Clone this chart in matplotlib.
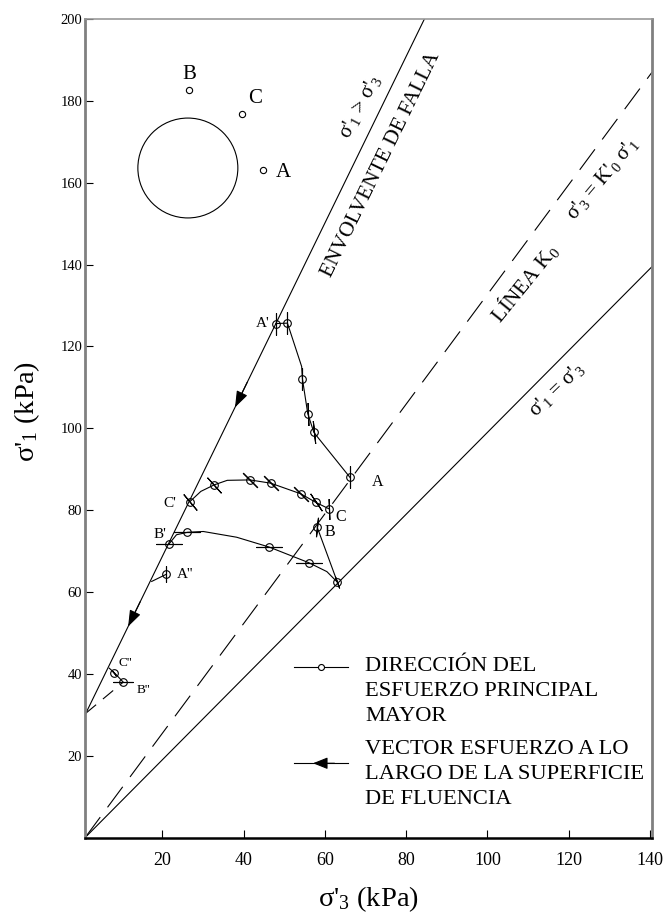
import matplotlib
matplotlib.use("Agg")
import matplotlib.pyplot as plt
from matplotlib.patches import Ellipse

plt.rcParams["font.family"] = ["Liberation Serif", "DejaVu Serif"]
plt.rcParams["mathtext.fontset"] = "custom"
plt.rcParams["mathtext.rm"] = "Liberation Serif"
plt.rcParams["mathtext.it"] = "Liberation Serif:italic"
plt.rcParams["mathtext.default"] = "regular"

# esquema de estados A, B, C
circ_x, circ_y = 26.3, 163.6
circ_rx, circ_ry = 12.3, 12.2
abc_lab = ["A", "B", "C"]
abc_x = [44.9, 26.6, 39.5]
abc_y = [163.0, 182.7, 176.7]
abc_lx = [49.8, 26.6, 42.8]
abc_ly = [162.4, 186.4, 180.7]

# rectas
env_x = [1.2, 84.5]      # envolvente de falla
env_y = [30.4, 200.0]
k0_x = [1.0, 140.5]      # linea K0
k0_y = [0.0, 187.0]
iso_x = [1.0, 140.5]     # s1 = s3
iso_y = [0.0, 139.5]

# trayectoria A -> A'
trayA_x = [48.0, 50.8, 54.3, 54.5, 55.8, 57.3, 66.2]
trayA_y = [125.6, 125.7, 115.1, 112.0, 103.6, 99.0, 88.0]
ptsA_x = [48.0, 50.8, 54.5, 55.8, 57.3, 66.2]
ptsA_y = [125.6, 125.7, 112.0, 103.6, 99.0, 88.0]
dirA = [90, 90, 90, 92, 96, 90]

# trayectoria C -> C'
trayC_x = [26.8, 29.5, 32.8, 36.0, 41.6, 46.7, 54.1, 57.8, 61.1]
trayC_y = [82.1, 84.6, 86.2, 87.3, 87.4, 86.6, 84.0, 81.9, 80.3]
ptsC_x = [26.8, 32.8, 41.6, 46.7, 54.1, 57.8, 61.1]
ptsC_y = [82.1, 86.2, 87.4, 86.6, 84.0, 81.9, 80.3]
dirC = [130, 132, 135, 135, 135, 124, 92]

# trayectoria B -> B'
trayB_x = [21.7, 23.5, 26.2, 30.1, 38.3, 46.3, 56.0, 60.5, 63.1, 58.1]
trayB_y = [71.8, 74.0, 74.6, 74.8, 73.4, 71.0, 67.2, 65.0, 62.4, 75.9]
ptsB_x = [21.7, 26.2, 46.3, 56.0, 63.1, 58.1]
ptsB_y = [71.8, 74.6, 71.0, 67.2, 62.4, 75.9]
dirB = [0, 0, 0, 0, 110, 84]

# A'' , C'' , B''
trayA2_x = [17.4, 20.9]
trayA2_y = [62.6, 64.3]
trayCB2_x = [6.96, 8.2, 10.4]
trayCB2_y = [41.4, 40.3, 38.0]
dashB2_x = [1.2, 10.4]
dashB2_y = [30.4, 38.0]

# flechas sobre la envolvente (punta)
flecha_x = [37.9, 11.6]

fig = plt.figure(figsize=(6.69, 9.18), dpi=100)
ax = fig.add_axes([0.1271, 0.0875, 0.8475, 0.8918])
ax.set_xlim(1.0, 140.5)
ax.set_ylim(0, 200)

lw = 0.8
ax.plot(env_x, env_y, color="k", lw=lw)
ax.plot(k0_x, k0_y, color="k", lw=lw, linestyle=(0, (23, 11)))
ax.plot(iso_x, iso_y, color="k", lw=lw)


def marcas(xs, ys, dirs, size):
    for x, y, d in zip(xs, ys, dirs):
        ax.plot(x, y, marker=(2, 2, d - 90), ms=size, color="k", mew=lw)
    ax.plot(xs, ys, "o", ms=5.5, mfc="none", mec="k", mew=lw, ls="none")


ax.plot(trayA_x, trayA_y, color="k", lw=lw)
marcas(ptsA_x, ptsA_y, dirA, 16.5)
ax.plot(trayC_x, trayC_y, color="k", lw=lw)
marcas(ptsC_x, ptsC_y, dirC, 15)
ax.plot(trayB_x, trayB_y, color="k", lw=lw)
marcas(ptsB_x[:4], ptsB_y[:4], dirB[:4], 19)
marcas(ptsB_x[4:5], ptsB_y[4:5], dirB[4:5], 9)
marcas(ptsB_x[5:], ptsB_y[5:], dirB[5:], 14)

ax.plot(trayA2_x, trayA2_y, color="k", lw=lw)
marcas(trayA2_x[1:], trayA2_y[1:], [90], 11.5)
ax.plot(trayCB2_x, trayCB2_y, color="k", lw=lw)
ax.plot(dashB2_x, dashB2_y, color="k", lw=lw, linestyle=(0, (12, 8)))
marcas(trayCB2_x[1:2], trayCB2_y[1:2], [130], 4)
marcas(trayCB2_x[2:], trayCB2_y[2:], [0], 14.4)

env_m = (env_y[1] - env_y[0]) / (env_x[1] - env_x[0])
for xt in flecha_x:
    yt = env_y[0] + env_m * (xt - env_x[0])
    ax.annotate("", xy=(xt, yt), xytext=(xt + 3, yt + 3 * env_m),
                arrowprops=dict(arrowstyle="-|>,head_length=0.5,head_width=0.18",
                                color="k", lw=lw, shrinkA=0, shrinkB=0,
                                mutation_scale=20))

# esquema
ax.add_patch(Ellipse((circ_x, circ_y), 2 * circ_rx, 2 * circ_ry,
                     fill=False, ec="k", lw=lw))
ax.plot(abc_x, abc_y, "o", ms=4.5, mfc="white", mec="k", mew=lw)
for t, x, y in zip(abc_lab, abc_lx, abc_ly):
    ax.text(x, y, t, fontsize=15, ha="center", va="center")

# etiquetas de trayectorias
ax.text(46.5, 125.7, "A'", fontsize=11, ha="right", va="center")
ax.text(72.9, 87.0, "A", fontsize=11.5, ha="center", va="center")
ax.text(21.9, 81.7, "C'", fontsize=11, ha="center", va="center")
ax.text(19.4, 74.0, "B'", fontsize=11, ha="center", va="center")
ax.text(62.7, 78.3, "C", fontsize=11.5, ha="left", va="center")
ax.text(61.3, 74.6, "B", fontsize=11.5, ha="center", va="center")
ax.text(23.5, 64.3, "A''", fontsize=11, ha="left", va="center")
ax.text(10.8, 42.6, "C''", fontsize=9.5, ha="center", va="center")
ax.text(15.3, 36.1, "B''", fontsize=9.5, ha="center", va="center")

# textos sobre las rectas
kw = dict(ha="center", va="center", rotation_mode="anchor")
ax.text(74.0, 164.4, "ENVOLVENTE DE FALLA", fontsize=15.5, rotation=64, **kw)
ax.text(68.7, 178.5, "σ'$_1$ > σ'$_3$", fontsize=15, rotation=62, **kw)
ax.text(109.0, 135.6, "LÍNEA K$_0$", fontsize=15.5, rotation=51, **kw)
ax.text(128.3, 161.0, "σ'$_3$ = K'$_0$ σ'$_1$", fontsize=15, rotation=50, **kw)
ax.text(117.0, 109.4, "σ'$_1$ = σ'$_3$", fontsize=15, rotation=44, **kw)

# leyenda
ax.plot([0.3686, 0.4638], [0.2089, 0.2089], color="k", lw=lw, transform=ax.transAxes)
ax.plot([0.4162], [0.2089], "o", ms=4.3, mfc="white", mec="k", mew=lw,
        transform=ax.transAxes)
ax.plot([0.3686, 0.4638], [0.0909, 0.0909], color="k", lw=lw, transform=ax.transAxes)
ax.annotate("", xy=(0.4021, 0.0909), xytext=(0.44, 0.0909),
            xycoords="axes fraction", textcoords="axes fraction",
            arrowprops=dict(arrowstyle="-|>,head_length=0.45,head_width=0.18",
                            color="k", lw=lw, shrinkA=0, shrinkB=0,
                            mutation_scale=20))
ley1 = ["DIRECCIÓN DEL", "ESFUERZO PRINCIPAL", "MAYOR"]
ley2 = ["VECTOR ESFUERZO A LO", "LARGO DE LA SUPERFICIE", "DE FLUENCIA"]
for i, t in enumerate(ley1):
    ax.text(0.4938, 0.2040 - i * 0.0305, t, fontsize=16.2, ha="left",
            va="baseline", transform=ax.transAxes)
for i, t in enumerate(ley2):
    ax.text(0.4938, 0.1016 - i * 0.0305, t, fontsize=16.2, ha="left",
            va="baseline", transform=ax.transAxes)

# ejes
ax.set_xticks([20, 40, 60, 80, 100, 120, 140])
ax.set_yticks([20, 40, 60, 80, 100, 120, 140, 160, 180, 200])
ax.tick_params(axis="x", direction="in", length=6, width=0.8, labelsize=13, pad=10)
ax.tick_params(axis="y", direction="in", length=6, width=0.8, labelsize=10.5, pad=2)
ax.set_xlabel("σ'$_3$ (kPa)", fontsize=20.5)
ax.set_ylabel("σ'$_1$ (kPa)", fontsize=20.5)
ax.xaxis.set_label_coords(0.5, -0.057)
ax.yaxis.set_label_coords(-0.076, 0.52)

ax.spines["left"].set_color("#808080")
ax.spines["left"].set_linewidth(2)
ax.spines["right"].set_color("#808080")
ax.spines["right"].set_linewidth(2)
ax.spines["top"].set_color("#999999")
ax.spines["top"].set_linewidth(1.2)
ax.spines["bottom"].set_color("k")
ax.spines["bottom"].set_linewidth(1.8)

fig.savefig("out.png", dpi=100)
plt.close(fig)
